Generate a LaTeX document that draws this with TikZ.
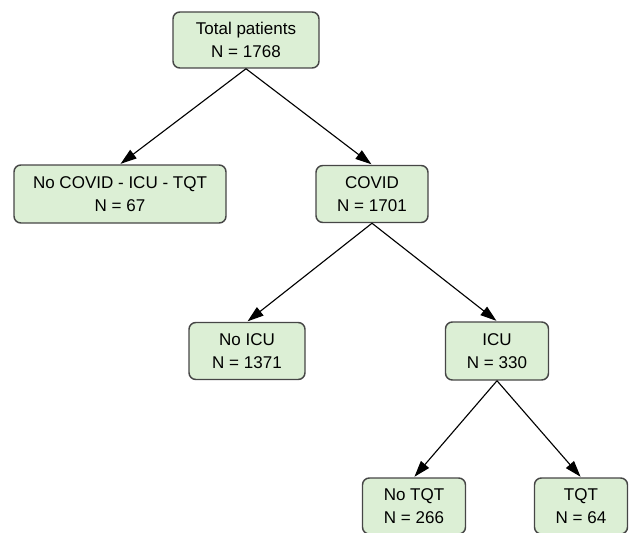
\documentclass[tikz,border=0pt]{standalone}
\usepackage{fontspec}
\setmainfont{Liberation Sans}
\usetikzlibrary{arrows.meta}
\definecolor{boxfill}{RGB}{220,239,213}
\definecolor{boxline}{RGB}{70,70,70}
\tikzset{
  box/.style={draw=boxline, fill=boxfill, line width=1.05pt, rounded corners=0.17cm,
    align=center, inner sep=0pt, font=\fontsize{12.1}{16.4}\selectfont},
  arr/.style={-{Triangle[length=11.5pt,width=7.5pt]}, line width=0.8pt, black, shorten >=0.5pt}
}
\begin{document}
\begin{tikzpicture}[x=0.025cm,y=-0.025cm]
\useasboundingbox (0,0) rectangle (630,532);
\node[box, minimum width=146*0.025cm, minimum height=56*0.025cm] (tot) at (246,40) {Total patients\\N = 1768};
\node[box, minimum width=212*0.025cm, minimum height=58*0.025cm] (nocov) at (120,194) {No COVID - ICU - TQT\\N = 67};
\node[box, minimum width=112*0.025cm, minimum height=57*0.025cm] (cov) at (372,194) {COVID\\N = 1701};
\node[box, minimum width=116*0.025cm, minimum height=57*0.025cm] (noicu) at (247,351) {No ICU\\N = 1371};
\node[box, minimum width=103*0.025cm, minimum height=58*0.025cm] (icu) at (497,351) {ICU\\N = 330};
\node[box, minimum width=103*0.025cm, minimum height=56*0.025cm] (notqt) at (414,506) {No TQT\\N = 266};
\node[box, minimum width=93*0.025cm, minimum height=56*0.025cm] (tqt) at (581,506) {TQT\\N = 64};
\draw[arr] (tot.south) -- (nocov.north);
\draw[arr] (tot.south) -- (cov.north);
\draw[arr] (cov.south) -- (noicu.north);
\draw[arr] (cov.south) -- (icu.north);
\draw[arr] (icu.south) -- (notqt.north);
\draw[arr] (icu.south) -- (tqt.north);
\end{tikzpicture}
\end{document}
